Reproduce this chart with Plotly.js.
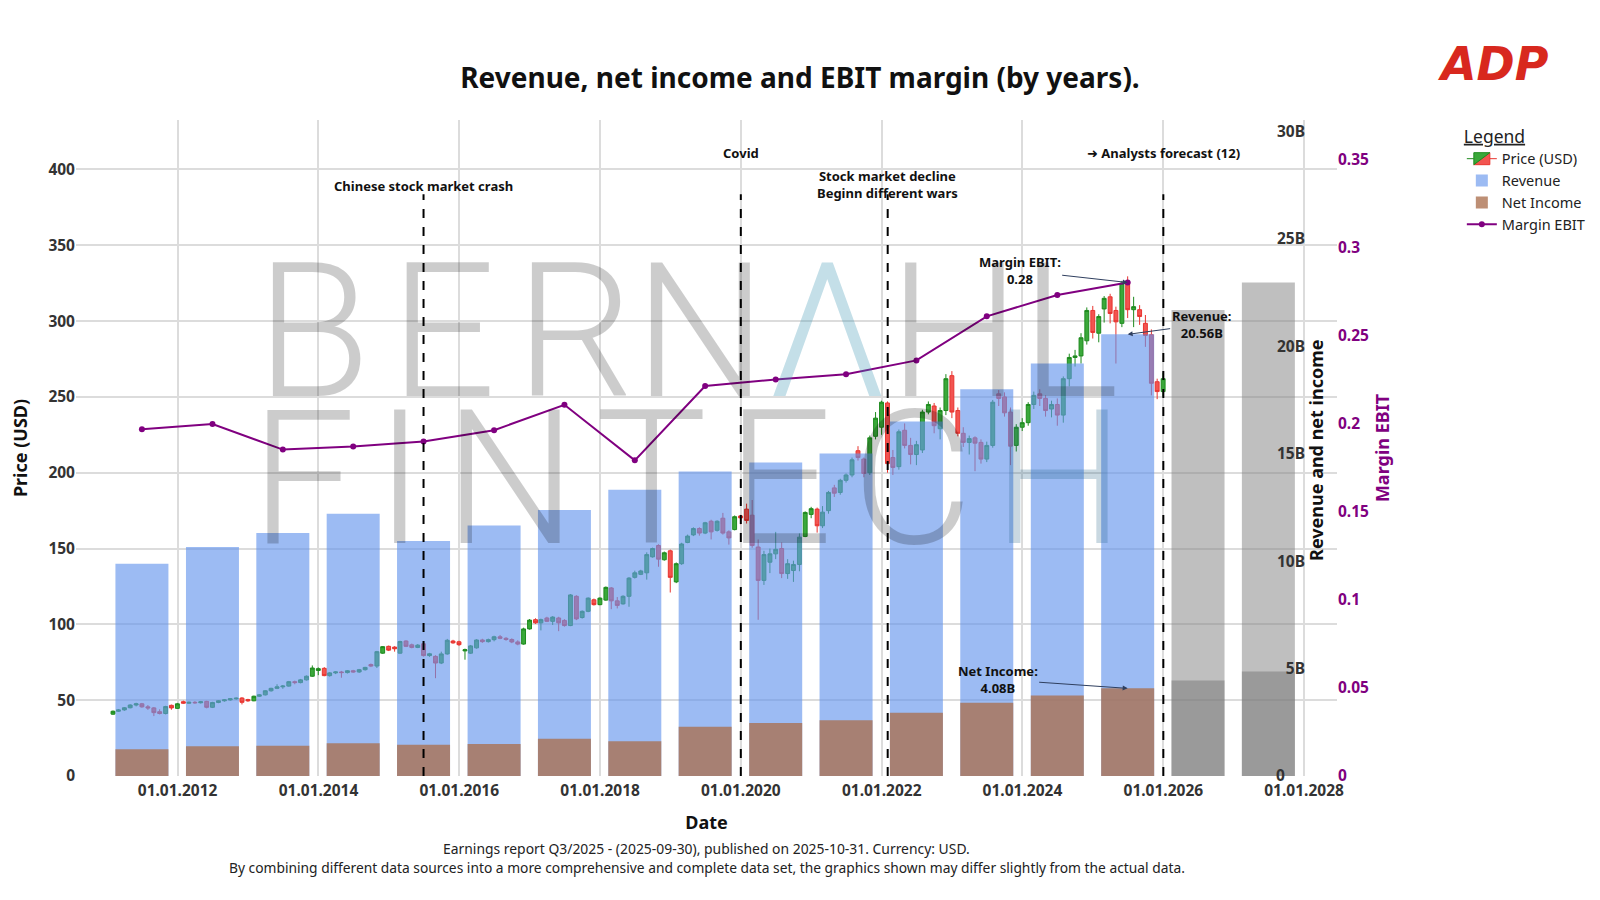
<!DOCTYPE html>
<html>
<head>
<meta charset="utf-8">
<script src="https://cdn.plot.ly/plotly-3.0.1.min.js"></script>
<style>
  html, body { margin: 0; padding: 0; background: #ffffff; }
  #chart { width: 1600px; height: 900px; }
</style>
</head>
<body>
<div id="chart"></div>
<script>
// ---------------- DATA ----------------
// Fiscal years (ADP fiscal year ends 30 June); last two are analyst forecasts
const fiscalYearEnds = ['2011-06-30','2012-06-30','2013-06-30','2014-06-30','2015-06-30','2016-06-30',
  '2017-06-30','2018-06-30','2019-06-30','2020-06-30','2021-06-30','2022-06-30','2023-06-30',
  '2024-06-30','2025-06-30','2026-06-30','2027-06-30'];
const forecastCount = 2;
// Revenue, billions USD
const revenueB = [9.88,10.66,11.31,12.21,10.94,11.66,12.38,13.33,14.18,14.59,15.01,16.50,18.01,19.20,20.56,21.70,22.98];
// Net income, billions USD
const netIncomeB = [1.25,1.39,1.41,1.52,1.45,1.49,1.73,1.62,2.29,2.47,2.60,2.95,3.41,3.75,4.08,4.45,4.86];
// EBIT margin (actual years only)
const marginEBIT = [0.1968,0.1997,0.1852,0.1869,0.1898,0.1962,0.2106,0.1791,0.2213,0.2250,0.2280,0.2358,0.2608,0.2729,0.2800];

// Monthly candles, Jan 2011 ... Dec 2025 (one row per year)
const candleStartYear = 2011;
const priceOpen = [
  40.8,42.7,43.6,45.0,46.8,47.6,45.6,44.9,42.4,41.2,46.6,44.6,
  49.0,48.0,48.6,48.3,49.2,45.3,48.5,49.6,50.2,50.9,51.4,50.4,
  49.6,52.6,53.5,56.2,57.8,58.8,59.3,62.2,61.6,63.4,65.8,69.6,
  71.0,66.2,68.0,68.6,68.2,69.4,68.6,70.1,73.5,72.5,81.0,85.5,
  85.0,81.0,89.0,86.5,84.8,87.2,79.4,78.9,74.5,80.5,89.0,88.5,
  82.5,81.0,84.5,89.7,88.6,89.9,91.8,90.8,90.0,88.4,87.0,97.0,
  103.1,101.0,104.2,102.0,104.2,102.6,99.2,118.5,104.5,108.6,116.2,113.0,
  116.0,124.0,115.5,113.5,118.5,131.0,133.0,134.0,144.5,152.0,142.6,148.5,
  128.0,140.0,154.0,159.0,163.2,160.2,168.0,162.0,170.0,161.0,162.5,171.5,
  176.0,172.0,151.0,129.0,141.0,146.5,150.0,133.5,135.5,139.5,158.0,172.5,
  176.0,165.0,175.0,190.0,187.0,195.0,198.5,214.5,209.0,200.0,224.0,230.0,
  246.0,210.0,204.0,228.0,218.0,212.0,215.0,240.0,244.0,229.0,241.0,264.0,
  241.0,226.0,220.0,223.0,220.0,209.0,218.0,252.0,250.0,240.0,218.0,230.0,
  233.0,245.0,252.0,249.0,242.0,245.0,238.0,262.0,276.0,277.0,287.0,307.0,
  292.0,308.0,316.0,307.0,298.5,326.0,307.5,307.5,298.5,291.0,260.0,253.5];
const priceHigh = [
  43.2,44.2,45.5,47.3,48.3,48.2,46.8,45.5,44.0,46.3,47.1,48.2,
  49.7,49.1,49.4,49.5,49.6,48.9,50.0,50.6,51.3,51.8,52.0,50.9,
  53.0,54.0,56.6,58.2,60.5,60.0,62.7,62.9,64.0,66.3,72.9,71.6,
  71.8,68.5,69.1,69.3,69.9,70.0,70.6,72.0,74.2,82.5,85.7,86.0,
  85.6,89.2,89.5,87.3,87.0,87.8,81.2,79.6,82.0,90.4,89.8,89.2,
  84.0,86.4,90.2,90.5,90.6,92.5,93.0,91.6,90.8,89.5,97.8,103.5,
  104.0,103.8,105.0,105.4,105.0,103.4,120.0,119.2,109.2,117.8,117.0,117.8,
  125.0,124.6,118.0,119.2,131.2,135.4,136.0,147.5,150.6,152.8,148.0,149.3,
  140.8,153.8,159.2,164.0,164.0,167.6,169.0,168.6,173.5,162.0,171.8,172.2,
  179.6,182.0,156.0,148.5,150.0,161.0,154.0,143.0,142.0,160.0,174.5,177.5,
  177.0,178.0,188.0,192.0,196.0,199.5,210.0,217.5,210.0,224.5,240.0,247.5,
  247.0,215.0,228.5,232.5,223.0,221.0,241.5,247.0,246.0,243.0,265.0,267.0,
  243.0,230.0,224.5,224.0,222.0,220.5,248.0,254.5,253.0,243.0,232.0,236.0,
  246.5,253.5,255.0,251.0,247.5,249.0,263.5,278.5,281.0,292.0,309.0,310.0,
  304.5,316.5,318.0,309.5,326.5,329.5,316.0,310.5,304.0,294.5,262.0,266.0];
const priceLow = [
  40.3,42.2,43.0,44.6,45.9,45.0,43.6,39.5,40.6,40.6,43.7,44.2,
  47.6,47.5,47.6,47.8,44.6,44.8,48.0,49.0,49.6,50.3,47.2,48.9,
  49.3,52.1,53.1,55.6,57.3,57.5,58.9,60.5,61.1,63.0,65.4,66.5,
  65.8,65.5,67.2,64.8,67.6,68.1,68.0,69.5,71.8,71.2,80.6,82.4,
  82.0,80.6,85.0,84.2,84.3,78.8,78.6,64.5,73.8,80.0,87.2,85.8,
  76.7,80.5,84.0,87.8,88.0,88.8,90.2,89.2,87.6,86.2,86.6,96.5,
  100.3,96.0,101.5,99.6,95.5,98.5,98.8,102.8,103.8,108.0,112.4,112.6,
  115.5,110.0,110.5,113.0,111.6,130.2,132.5,129.5,144.0,138.0,142.0,121.0,
  127.2,139.2,153.5,158.2,158.5,159.5,156.0,161.2,159.2,152.6,162.0,166.0,
  166.5,150.5,103.0,126.0,133.8,143.0,130.5,130.0,128.0,135.0,157.5,170.0,
  160.5,163.5,173.0,184.0,185.5,193.5,197.0,208.0,197.0,198.5,222.0,225.0,
  200.0,198.5,202.0,216.0,205.5,205.0,213.0,238.5,226.0,222.0,238.0,236.0,
  224.0,217.0,212.0,201.0,206.0,207.0,216.5,244.0,237.0,205.0,214.0,227.5,
  231.0,242.0,244.0,237.0,236.5,231.0,233.0,257.0,270.0,272.0,284.5,288.5,
  286.0,299.0,298.5,272.0,296.0,302.0,296.0,297.5,283.0,251.0,248.5,250.0];
const priceClose = [
  42.7,43.6,45.0,46.8,47.6,45.6,44.9,41.8,41.2,45.8,44.9,47.6,
  48.0,48.6,48.3,48.9,45.3,48.5,49.6,50.2,50.9,51.3,48.6,49.6,
  52.6,53.5,56.2,57.8,58.8,59.3,62.2,61.6,63.4,65.8,71.2,70.8,
  66.2,68.0,68.6,68.2,69.4,68.6,70.1,71.6,72.5,82.0,85.3,83.0,
  83.9,88.7,85.5,84.8,86.3,79.4,80.6,74.5,80.5,89.5,87.8,86.6,
  83.3,85.8,89.7,88.6,89.9,91.8,90.8,90.0,88.4,87.0,97.0,102.8,
  101.0,103.1,102.0,104.8,101.0,99.2,119.4,103.6,108.6,117.3,113.0,117.3,
  124.4,115.5,112.5,118.5,130.5,134.0,135.2,146.0,150.0,143.0,147.2,131.0,
  140.0,153.0,158.2,163.2,160.2,167.0,161.0,168.0,160.2,157.0,171.0,170.2,
  168.5,152.0,129.0,146.0,146.5,149.5,133.5,140.0,139.5,157.5,173.8,176.3,
  165.0,174.0,187.0,186.5,195.0,198.5,208.5,210.0,199.5,223.0,236.0,246.5,
  206.0,203.5,227.0,218.0,212.0,218.5,240.0,245.0,231.0,241.0,262.0,240.0,
  226.0,220.0,222.5,219.5,209.0,218.0,246.5,249.0,239.5,217.5,230.0,233.0,
  245.0,251.0,249.0,241.0,245.0,238.0,262.0,276.0,277.0,289.0,307.0,292.5,
  303.0,315.0,305.0,299.5,325.0,307.5,309.5,303.0,290.5,259.0,253.5,262.0];

// Events (vertical dashed lines)
const eventDates = ['2015-06-30','2020-01-01','2022-02-01','2026-01-01'];
const eventLabels = ['Chinese stock market crash','Covid','Stock market decline<br>Beginn different wars','➜ Analysts forecast (12)'];

// Callouts for the latest fiscal year
const lastRevenueLabel = 'Revenue:<br>20.56B';
const lastNetIncomeLabel = 'Net Income:<br>4.08B';
const lastMarginLabel = 'Margin EBIT:<br>0.28';

const revTickVals = [0,5,10,15,20,25,30];
const revTickText = ['0','5B','10B','15B','20B','25B','30B'];

const footerLine1 = 'Earnings report Q3/2025 - (2025-09-30), published on 2025-10-31. Currency: USD.';
const footerLine2 = 'By combining different data sources into a more comprehensive and complete data set, the graphics shown may differ slightly from the actual data.';

// ---------------- BUILD ----------------
const candleDates = priceClose.map((_, i) => {
  const d = new Date(Date.UTC(candleStartYear, i + 1, 0));
  return d.toISOString().slice(0, 10);
});
const nActual = fiscalYearEnds.length - forecastCount;
const revColors = fiscalYearEnds.map((_, i) => i < nActual ? 'rgba(100,149,237,0.64)' : 'rgba(128,128,128,0.5)');
const niColors = fiscalYearEnds.map((_, i) => i < nActual ? 'rgba(170,112,78,0.78)' : 'rgba(118,118,118,0.5)');
const barWidth = 275 * 86400000;
const NB = '\u00a0';
const revTickTextShown = revTickText.map((t, i) => i === 0 ? t + NB.repeat(5) : t);

const FONT = 'Noto Sans, Open Sans, DejaVu Sans, sans-serif';
const purple = '#800080';

const traces = [
  {
    type: 'candlestick', name: 'Price (USD)',
    x: candleDates, open: priceOpen, high: priceHigh, low: priceLow, close: priceClose,
    xaxis: 'x', yaxis: 'y',
    increasing: { line: { color: '#1e8a1e', width: 1 }, fillcolor: '#3aa83a' },
    decreasing: { line: { color: '#e8342f', width: 1 }, fillcolor: '#f25450' },
    whiskerwidth: 0
  },
  {
    type: 'bar', name: 'Revenue', x: fiscalYearEnds, y: revenueB,
    width: barWidth, marker: { color: revColors, line: { width: 0 } },
    xaxis: 'x', yaxis: 'y2'
  },
  {
    type: 'bar', name: 'Net Income', x: fiscalYearEnds, y: netIncomeB,
    width: barWidth, marker: { color: niColors, line: { width: 0 } },
    xaxis: 'x', yaxis: 'y2'
  },
  {
    type: 'scatter', mode: 'lines+markers', name: 'Margin EBIT',
    x: fiscalYearEnds.slice(0, marginEBIT.length), y: marginEBIT,
    line: { color: purple, width: 2 }, marker: { color: purple, size: 6 },
    xaxis: 'x', yaxis: 'y3'
  }
];

const shapes = eventDates.map(d => ({
  type: 'line', xref: 'x', yref: 'paper', x0: d, x1: d, y0: 0, y1: 0.887,
  line: { color: '#000', width: 2, dash: 'dash' }, layer: 'above'
}));

// watermark
const HS = '\u200A';
const wmGray = 'rgba(0,0,0,0.2)';
shapes.push({
  type: 'rect', xref: 'paper', yref: 'paper', x0: 0.12, x1: 0.85, y0: 0.613, y1: 0.783,
  line: { width: 0 }, fillcolor: 'rgba(0,0,0,0)', layer: 'above',
  label: {
    text: 'B' + HS + 'E' + HS + 'RN<span style="color:rgb(60,150,180);fill-opacity:0.3">Λ</span>HL',
    textposition: 'middle center',
    font: { family: 'Roboto, Open Sans, sans-serif', size: 187, weight: 300, color: wmGray }
  }
});
shapes.push({
  type: 'rect', xref: 'paper', yref: 'paper', x0: 0.12, x1: 0.85, y0: 0.389, y1: 0.559,
  line: { width: 0 }, fillcolor: 'rgba(0,0,0,0)', layer: 'above',
  label: {
    text: ['F','I','N','T','E','C'].join(HS) + HS + '<span style="color:rgb(30,90,130);fill-opacity:0.24">H</span>',
    textposition: 'middle center',
    font: { family: 'Roboto, Open Sans, sans-serif', size: 187, weight: 300, color: wmGray }
  }
});

const evY = [0.90, 0.95, 0.902, 0.95];
const annotations = eventDates.map((d, i) => ({
  xref: 'x', yref: 'paper', x: d, y: evY[i], text: eventLabels[i], showarrow: false,
  xanchor: 'center', yanchor: 'middle', font: { family: FONT, size: 13, color: '#111', weight: 'bold' }
}));

const lastX = fiscalYearEnds[nActual - 1];
const calloutFont = { family: FONT, size: 13, color: '#111', weight: 'bold' };
annotations.push(
  { xref: 'x', yref: 'y3', x: lastX, y: marginEBIT[marginEBIT.length - 1], text: lastMarginLabel,
    showarrow: true, ax: -108, ay: -12, arrowhead: 2, arrowsize: 1, arrowwidth: 1, arrowcolor: '#2f3f5f',
    font: calloutFont },
  { xref: 'x', yref: 'y2', x: lastX, y: revenueB[nActual - 1], text: lastRevenueLabel,
    showarrow: true, ax: 74, ay: -10, arrowhead: 2, arrowsize: 1, arrowwidth: 1, arrowcolor: '#2f3f5f',
    font: calloutFont },
  { xref: 'x', yref: 'y2', x: lastX, y: netIncomeB[nActual - 1], text: lastNetIncomeLabel,
    showarrow: true, ax: -130, ay: -9, arrowhead: 2, arrowsize: 1, arrowwidth: 1, arrowcolor: '#2f3f5f',
    font: calloutFont },
  { xref: 'paper', yref: 'paper', x: 0.9833, y: 0.497, text: '<b>Revenue and net income</b>', showarrow: false,
    textangle: -90, xanchor: 'center', yanchor: 'middle', font: { family: FONT, size: 18, color: '#111' } },
  { xref: 'paper', yref: 'paper', x: 0.5, y: -0.1104, text: footerLine1, showarrow: false,
    xanchor: 'center', yanchor: 'middle', font: { family: FONT, size: 13.9, color: '#222' } },
  { xref: 'paper', yref: 'paper', x: 0.5, y: -0.1401, text: footerLine2, showarrow: false,
    xanchor: 'center', yanchor: 'middle', font: { family: FONT, size: 13.8, color: '#222' } },
  { xref: 'paper', yref: 'paper', x: 1.1245, y: 1.0853, text: '<b><i>ADP</i></b>', showarrow: false,
    xanchor: 'center', yanchor: 'middle', font: { family: 'DejaVu Sans, sans-serif', size: 46, color: '#d8281e' } }
);

const tickFont = { family: FONT, size: 15.5, color: '#333', weight: 'bold' };
const layout = {
  width: 1600, height: 900,
  paper_bgcolor: '#ffffff', plot_bgcolor: '#ffffff',
  margin: { l: 76, r: 263, t: 120, b: 123.5, pad: 0, autoexpand: false },
  font: { family: FONT, color: '#222' },
  showlegend: true,
  barmode: 'overlay',
  boxgap: 0.15, boxgroupgap: 0.15,
  title: { text: '<b>Revenue, net income and EBIT margin (by years).</b>', x: 0.5, xref: 'container',
    xanchor: 'center', y: 1 - 78.6 / 900, yanchor: 'middle', font: { family: FONT, size: 28, color: '#111' } },
  xaxis: {
    type: 'date', range: ['2010-07-23', '2028-06-20'], tickformat: '%d.%m.%Y',
    tick0: '2012-01-01', dtick: 'M24', showgrid: true, gridcolor: '#dcdcdc', gridwidth: 2,
    zeroline: false, showline: false, ticks: '', tickfont: tickFont, ticklabelstandoff: 3,
    rangeslider: { visible: false },
    title: { text: '<b>Date</b>', font: { family: FONT, size: 18, color: '#111' }, standoff: 16 }
  },
  yaxis: {
    range: [0, 432.6], dtick: 50, showgrid: true, gridcolor: '#dcdcdc', gridwidth: 2,
    zeroline: false, showline: false, ticks: '', tickfont: tickFont,
    title: { text: '<b>Price (USD)</b>', font: { family: FONT, size: 18, color: '#111' }, standoff: 16 }
  },
  yaxis2: {
    overlaying: 'y', side: 'left', anchor: 'free', position: 0.9746,
    range: [0, 30.54], tickvals: revTickVals, ticktext: revTickTextShown,
    showgrid: false, zeroline: false, showline: false, ticks: '',
    tickfont: tickFont
  },
  yaxis3: {
    overlaying: 'y', side: 'right', anchor: 'x',
    range: [0, 0.3722], dtick: 0.05, showgrid: false, zeroline: false, showline: false, ticks: '',
    tickfont: { family: FONT, size: 15.5, color: purple, weight: 'bold' },
    title: { text: '<b>Margin EBIT</b>', font: { family: FONT, size: 18, color: purple }, standoff: 8 }
  },
  legend: {
    x: 1.099, xanchor: 'left', y: 1.0, yanchor: 'top',
    bgcolor: 'rgba(0,0,0,0)', font: { family: FONT, size: 14.5, color: '#222' },
    title: { text: '<u>Legend</u>', font: { family: FONT, size: 17.5, color: '#222' } },
    tracegroupgap: 0
  },
  shapes: shapes,
  annotations: annotations
};

Plotly.newPlot('chart', traces, layout, { displayModeBar: false, responsive: false });
</script>
</body>
</html>
